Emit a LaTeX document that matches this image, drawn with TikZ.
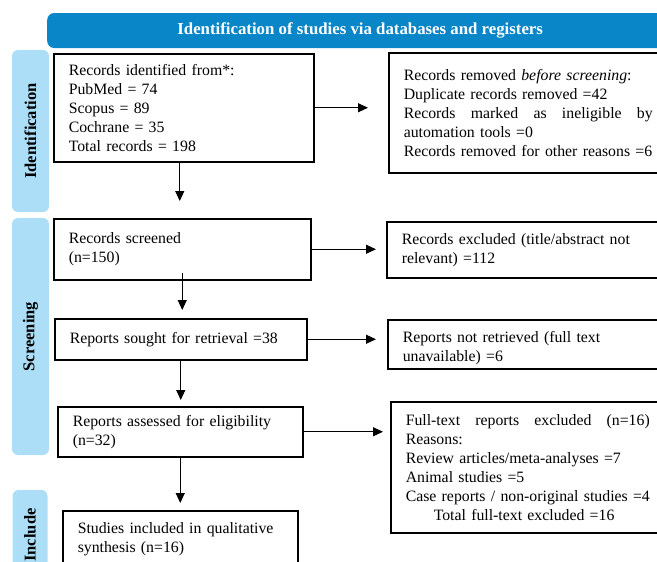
\documentclass[tikz,border=0pt]{standalone}
\usepackage{fontspec}
\setmainfont{Liberation Serif}
\usetikzlibrary{arrows.meta}
\definecolor{headblue}{RGB}{8,134,200}
\definecolor{sideblue}{RGB}{172,223,247}

\begin{document}
\begin{tikzpicture}[x=1pt, y=-1pt,
    box/.style={rectangle, draw, line width=1.5pt, anchor=north west, align=left, inner xsep=15pt, inner ysep=0pt, font=\fontsize{15.8}{19}\selectfont},
    side/.style={rectangle, fill=sideblue, rounded corners=6pt, rotate=90, minimum height=37pt, font=\fontsize{16.5}{18}\selectfont\bfseries},
    flow/.style={-{Triangle[length=10pt, width=9pt]}, line width=0.9pt}]
    \useasboundingbox (0,0) rectangle (657,562);
    \clip (0,0) rectangle (657,562);

    % Header and phase bars
    \node[rectangle, fill=headblue, rounded corners=7pt, anchor=west, minimum width=626pt, minimum height=35pt, text=white, font=\fontsize{16.8}{18}\selectfont\bfseries] (header) at (47,30.5) {Identification of studies via databases and registers};
    \node[side, minimum width=162pt] (identbar) at (30.5,131) {Identification};
    \node[side, minimum width=237pt] (screenbar) at (30.5,336.5) {Screening};
    \node[side, minimum width=90pt, minimum height=35pt] (inclbar) at (30,535) {Include};

    % Main components
    \node[box, text width=230pt, minimum height=108pt] (identified) at (53,53) {Records identified from*:\\ PubMed = 74\\ Scopus = 89\\ Cochrane = 35\\ Total records = 198};
    \node[box, text width=262pt, minimum height=120pt] (removed) at (388,52) {Records removed \textit{before screening}:\\ Duplicate records removed =42\\ \makebox[249pt][l]{Records\hfill marked\hfill as\hfill ineligible\hfill by}\\ automation tools =0\\ Records removed for other reasons =6};
    \node[box, text width=227pt, minimum height=61pt] (screened) at (53,218) {Records screened\\ (n=150)};
    \node[box, text width=260pt, minimum height=56pt] (excluded) at (386,221) {Records excluded (title/abstract not\\ relevant) =112};
    \node[box, text width=222pt, minimum height=41pt] (sought) at (54,318) {Reports sought for retrieval =38};
    \node[box, text width=260pt, minimum height=49pt] (notretrieved) at (387,319) {\rule{0pt}{19pt}Reports not retrieved (full text\\ unavailable) =6};
    \node[box, text width=215pt, minimum height=50pt] (assessed) at (57,406) {Reports assessed for eligibility\\ (n=32)};
    \node[box, text width=262pt, minimum height=131pt] (ftexcluded) at (390,401) {\makebox[244pt][l]{Full-text\hfill reports\hfill excluded\hfill (n=16)}\\ Reasons:\\ Review articles/meta-analyses =7\\ Animal studies =5\\ Case reports / non-original studies =4\\ \hspace*{28pt}Total full-text excluded =16};
    \node[box, text width=205pt, minimum height=57pt] (included) at (62,510) {Studies included in qualitative\\ synthesis (n=16)};

    % Data flow
    \draw[flow, shorten >=20pt] (identified.east) -- (identified.east -| removed.west);
    \draw[flow, shorten >=10pt] (screened.east) -- (screened.east -| excluded.west);
    \draw[flow, shorten >=11pt] (sought.east) -- (sought.east -| notretrieved.west);
    \draw[flow, shorten >=7pt] (assessed.east) -- (assessed.east -| ftexcluded.west);
    \draw[flow, shorten >=17pt] ([xshift=-4pt]identified.south) -- ([xshift=-4pt]identified.south |- screened.north);
    \draw[flow, shorten <=-8pt, shorten >=8pt] (screened.south) -- (screened.south |- sought.north);
    \draw[flow, shorten >=6pt] (sought.south) -- (sought.south |- assessed.north);
    \draw[flow, shorten >=7pt] (assessed.south) -- (assessed.south |- included.north);
\end{tikzpicture}
\end{document}
